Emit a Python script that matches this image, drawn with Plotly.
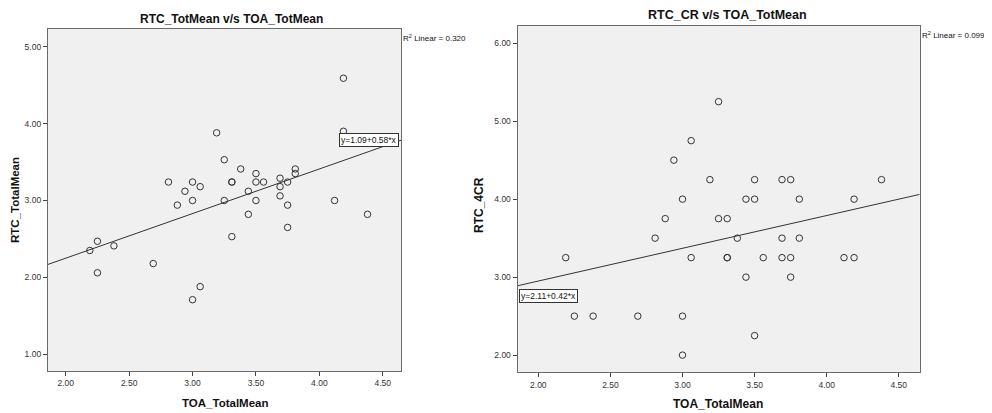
import plotly.graph_objects as go

# ---- data ----
toa_left = [4.19, 4.19, 3.19, 3.25, 3.38, 3.81, 3.81, 3.50, 3.69, 2.81, 3.00, 3.31, 3.31,
            3.50, 3.56, 3.75, 3.06, 3.69, 2.94, 3.44, 3.69, 3.00, 3.25, 3.50, 4.12, 2.88,
            3.75, 3.44, 4.38, 3.75, 3.31, 2.25, 2.38, 2.19, 2.69, 2.25, 3.06, 3.00]
rtc_total = [4.59, 3.90, 3.88, 3.53, 3.41, 3.41, 3.35, 3.35, 3.29, 3.24, 3.24, 3.24, 3.24,
             3.24, 3.24, 3.24, 3.18, 3.18, 3.12, 3.12, 3.06, 3.00, 3.00, 3.00, 3.00, 2.94,
             2.94, 2.82, 2.82, 2.65, 2.53, 2.47, 2.41, 2.35, 2.18, 2.06, 1.88, 1.71]

toa_right = [3.25, 3.06, 2.94, 3.19, 3.50, 3.69, 3.75, 4.38, 3.00, 3.44, 3.50, 3.81, 4.19,
             2.88, 3.25, 3.31, 2.81, 3.38, 3.69, 3.81, 2.19, 3.06, 3.31, 3.31, 3.56, 3.69,
             3.75, 4.12, 4.19, 3.44, 3.75, 2.25, 2.38, 2.69, 3.00, 3.50, 3.00]
rtc_4cr = [5.25, 4.75, 4.50, 4.25, 4.25, 4.25, 4.25, 4.25, 4.00, 4.00, 4.00, 4.00, 4.00,
           3.75, 3.75, 3.75, 3.50, 3.50, 3.50, 3.50, 3.25, 3.25, 3.25, 3.25, 3.25, 3.25,
           3.25, 3.25, 3.25, 3.00, 3.00, 2.50, 2.50, 2.50, 2.50, 2.25, 2.00]

fit_left = (1.09, 0.58)    # intercept, slope
fit_right = (2.11, 0.42)
r2_left = "0.320"
r2_right = "0.099"

x_ticks = [2.0, 2.5, 3.0, 3.5, 4.0, 4.5]
y_ticks_left = [1.0, 2.0, 3.0, 4.0, 5.0]
y_ticks_right = [2.0, 3.0, 4.0, 5.0, 6.0]

x_range_left = [1.86, 4.644]
y_range_left = [0.783, 5.23]
x_range_right = [1.857, 4.645]
y_range_right = [1.78, 6.22]

# ---- layout helpers ----
# The page body has an 8px margin, so the figure is drawn 8px smaller
# and every screen position is shifted by that offset.
OFF = 8
W, H = 992 - OFF, 413 - OFF
def fx(p):
    return (p - OFF) / W
def fy(p):
    return 1 - (p - OFF) / H

FONT = "Arial, Liberation Sans, sans-serif"
MARK = "#333333"

fig = go.Figure()

def add_panel(xs, ys, fit, xa, ya, xr):
    fig.add_trace(go.Scatter(
        x=xs, y=ys, mode="markers", xaxis=xa, yaxis=ya,
        marker=dict(symbol="circle-open", size=6.5, color=MARK, line=dict(width=1, color=MARK)),
        showlegend=False, hoverinfo="x+y"))
    b0, b1 = fit
    lx = [xr[0], xr[1]]
    ly = [b0 + b1 * v for v in lx]
    fig.add_trace(go.Scatter(
        x=lx, y=ly, mode="lines", xaxis=xa, yaxis=ya,
        line=dict(color=MARK, width=1), showlegend=False, hoverinfo="skip"))

add_panel(toa_left, rtc_total, fit_left, "x", "y", x_range_left)
add_panel(toa_right, rtc_4cr, fit_right, "x2", "y2", x_range_right)

axis_common = dict(
    showline=True, mirror=True, linecolor="#6a6a6a", linewidth=1.3,
    ticks="outside", ticklen=4, tickcolor="#444444", tickwidth=1,
    showgrid=False, zeroline=False, tickformat=".2f", automargin=False,
    tickfont=dict(family=FONT, size=8.5, color="#333333"),
)

fig.update_layout(
    template="none",
    width=W, height=H,
    margin=dict(l=0, r=0, t=0, b=0, pad=0),
    paper_bgcolor="white",
    plot_bgcolor="#f0f0f0",
    xaxis=dict(domain=[fx(48), fx(401)], range=x_range_left, tickvals=x_ticks,
               anchor="y", **axis_common),
    yaxis=dict(domain=[fy(371), fy(29)], range=y_range_left, tickvals=y_ticks_left,
               anchor="x", **axis_common),
    xaxis2=dict(domain=[fx(517.7), fx(919.7)], range=x_range_right, tickvals=x_ticks,
                anchor="y2", **axis_common),
    yaxis2=dict(domain=[fy(372.3), fy(26)], range=y_range_right, tickvals=y_ticks_right,
                anchor="x2", **axis_common),
)

def txt(text, x, y, size, bold=False, angle=0, xanchor="center", **kw):
    fig.add_annotation(
        text=f"<b>{text}</b>" if bold else text,
        x=fx(x), y=fy(y), xref="paper", yref="paper",
        showarrow=False, textangle=angle, xanchor=xanchor, yanchor="middle",
        font=dict(family=FONT, size=size, color="#111111"), **kw)

# titles
txt("RTC_TotMean v/s TOA_TotMean", 231, 19, 12, bold=True)
txt("RTC_CR v/s TOA_TotMean", 727, 15, 12.5, bold=True)

# axis titles
txt("TOA_TotalMean", 225, 403, 11.5, bold=True)
txt("RTC_TotalMean", 15, 200, 11.5, bold=True, angle=-90)
txt("TOA_TotalMean", 718, 404, 12, bold=True)
txt("RTC_4CR", 479, 205, 12, bold=True, angle=-90)

# R^2 labels
txt(f"R<sup>2</sup> Linear = {r2_left}", 401, 38, 8, xanchor="left")
txt(f"R<sup>2</sup> Linear = {r2_right}", 920, 35, 8, xanchor="left")

# equation boxes
eq_kw = dict(bgcolor="white", bordercolor="#333333", borderwidth=1, borderpad=1)
txt(f"y={fit_left[0]:.2f}+{fit_left[1]:.2f}*x", 338.5, 140.3, 8.5, xanchor="left", **eq_kw)
txt(f"y={fit_right[0]:.2f}+{fit_right[1]:.2f}*x", 518.5, 296, 8.5, xanchor="left", **eq_kw)

fig.write_html("out.html")
